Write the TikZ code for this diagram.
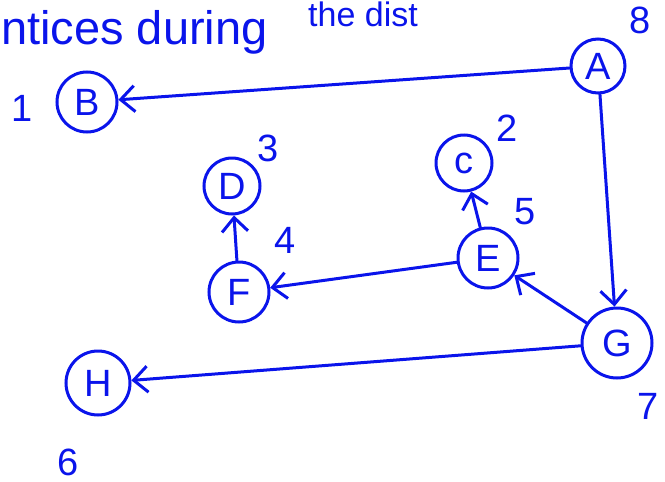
\documentclass[tikz,border=0pt]{standalone}
\usepackage{fontspec}
\setmainfont{Liberation Sans}
\usepackage{xcolor}
\usetikzlibrary{arrows.meta}

\definecolor{ink}{RGB}{10,20,235}

\begin{document}
\begin{tikzpicture}[x=1pt, y=-1pt,
    vtx/.style={draw=ink, line width=3pt, circle, inner sep=0pt, text=ink,
                font=\fontsize{38}{40}\selectfont},
    num/.style={text=ink, font=\fontsize{38}{40}\selectfont, inner sep=0pt},
    edge/.style={draw=ink, line width=3pt, line cap=round,
                 -{Straight Barb[length=14pt, width=26pt, line width=3pt]}}]
            \useasboundingbox (0,0) rectangle (665,482);

            % vertices
            \node[vtx, minimum width=52pt, minimum height=54pt] (A) at (598,66) {A};
            \node[vtx, minimum size=60pt] (B) at (87,102) {B};
            \node[vtx, minimum width=56pt, minimum height=52pt] (C) at (464,163) {c};
            \node[vtx, minimum width=50pt, minimum height=56pt] (D) at (232,186) {D};
            \node[vtx, minimum width=60pt, minimum height=56pt] (E) at (488,258) {E};
            \node[vtx, minimum size=60pt] (F) at (239,292) {F};
            \node[vtx, minimum width=70pt, minimum height=66pt] (G) at (617,343) {G};
            \node[vtx, minimum size=64pt] (H) at (98,383) {H};

            % visiting order
            \foreach \n/\x/\y/\v in {a/640/20/8, b/22/108/1, c/507/128/2, d/268/148/3,
                                    e/525/212/5, f/285/240/4, g/648/406/7, h/68/462/6}
                \node[num] (n\n) at (\x,\y) {\v};

            \draw[edge] (A) -- (B);
            \draw[edge] (A) -- (G);
            \draw[edge] (G) -- (E);
            \draw[edge] (G) -- (H);
            \draw[edge] (E) -- (C);
            \draw[edge] (E) -- (F);
            \draw[edge] (F) -- (D);

            \node[num, anchor=base west, font=\fontsize{47}{49}\selectfont] (title) at (1,44) {ntices during};
            \node[num, anchor=north west, font=\fontsize{34}{36}\selectfont] (title2) at (308,2) {the dist};
\end{tikzpicture}
\end{document}
